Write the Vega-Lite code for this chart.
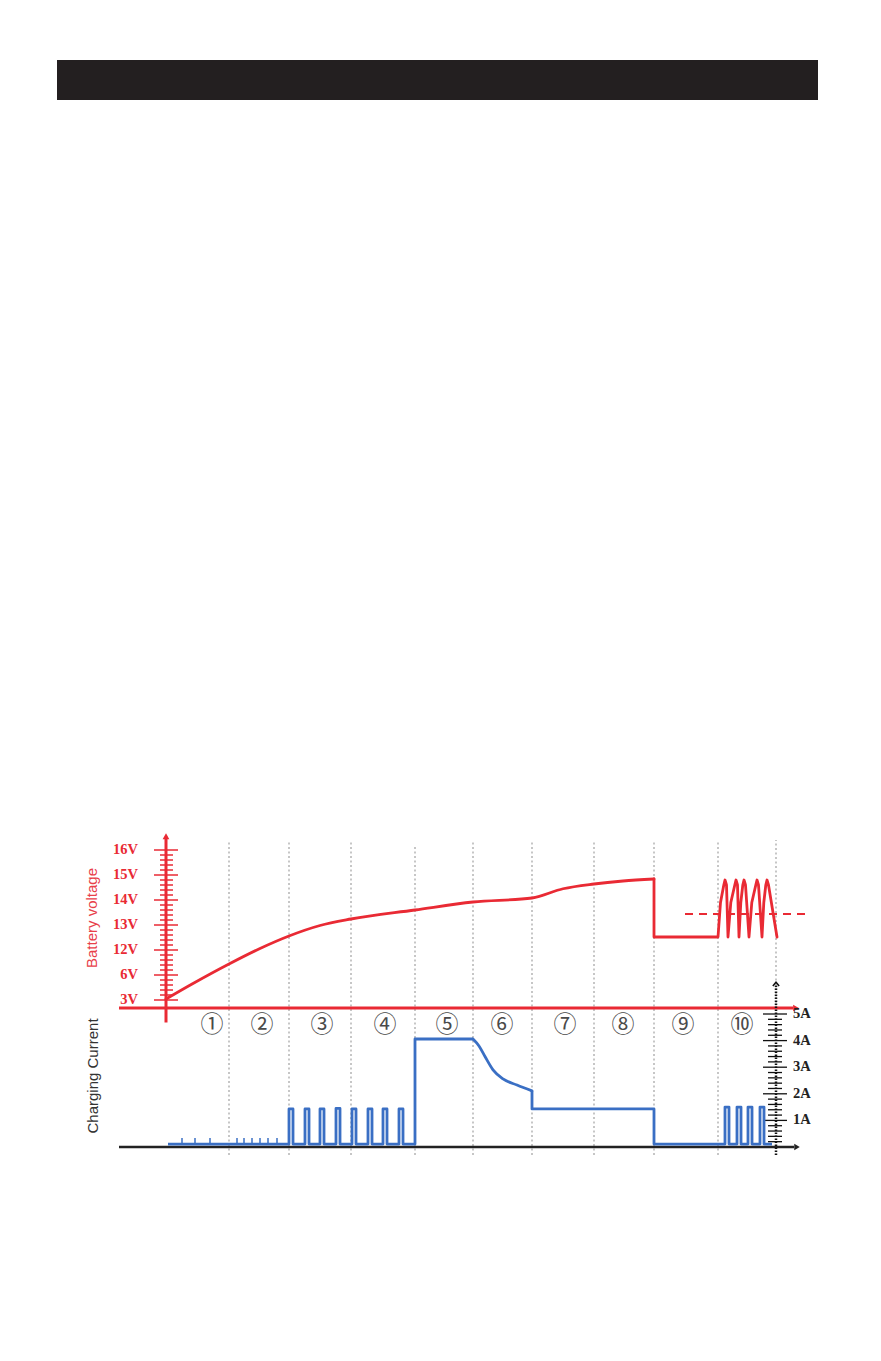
{
  "$schema": "https://vega.github.io/schema/vega-lite/v6.json",
  "width": 881,
  "height": 1361,
  "autosize": {"type": "fit", "contains": "padding"},
  "padding": 0,
  "background": "white",
  "config": {"view": {"stroke": null}},
  "datasets": {
    "header": [{"t": -109, "t2": 652, "v": 36.0, "v2": 37.6}],
    "grid": [
      {"t": 63, "v": -6.2, "v2": 6.4}, {"t": 123, "v": -6.2, "v2": 6.4}, {"t": 185, "v": -6.2, "v2": 6.4},
      {"t": 249, "v": -6.2, "v2": 6.2}, {"t": 307, "v": -6.2, "v2": 6.4}, {"t": 366, "v": -6.2, "v2": 6.4},
      {"t": 428, "v": -6.2, "v2": 6.3}, {"t": 488, "v": -6.2, "v2": 6.3}, {"t": 552, "v": -6.2, "v2": 6.4},
      {"t": 610, "v": -0.3, "v2": 6.4}
    ],
    "redaxes": [
      {"t": 0, "t2": 0, "v": -0.9, "v2": 6.5},
      {"t": -47, "t2": 627, "v": -0.32, "v2": -0.32}
    ],
    "redarrows": [
      {"t": 0, "v": 6.55, "s": "up"},
      {"t": 630, "v": -0.32, "s": "right"}
    ],
    "vticks": [
      {"t": -12, "t2": 12, "v": 0}, {"t": -12, "t2": 12, "v": 1}, {"t": -12, "t2": 12, "v": 2},
      {"t": -12, "t2": 12, "v": 3}, {"t": -12, "t2": 12, "v": 4}, {"t": -12, "t2": 12, "v": 5},
      {"t": -12, "t2": 12, "v": 6},
      {"t": -6, "t2": 7, "v": 0.2}, {"t": -6, "t2": 7, "v": 0.4}, {"t": -6, "t2": 7, "v": 0.6}, {"t": -6, "t2": 7, "v": 0.8},
      {"t": -6, "t2": 7, "v": 1.2}, {"t": -6, "t2": 7, "v": 1.4}, {"t": -6, "t2": 7, "v": 1.6}, {"t": -6, "t2": 7, "v": 1.8},
      {"t": -6, "t2": 7, "v": 2.2}, {"t": -6, "t2": 7, "v": 2.4}, {"t": -6, "t2": 7, "v": 2.6}, {"t": -6, "t2": 7, "v": 2.8},
      {"t": -6, "t2": 7, "v": 3.2}, {"t": -6, "t2": 7, "v": 3.4}, {"t": -6, "t2": 7, "v": 3.6}, {"t": -6, "t2": 7, "v": 3.8},
      {"t": -6, "t2": 7, "v": 4.2}, {"t": -6, "t2": 7, "v": 4.4}, {"t": -6, "t2": 7, "v": 4.6}, {"t": -6, "t2": 7, "v": 4.8},
      {"t": -6, "t2": 7, "v": 5.2}, {"t": -6, "t2": 7, "v": 5.4}, {"t": -6, "t2": 7, "v": 5.6}, {"t": -6, "t2": 7, "v": 5.8}
    ],
    "vlabels": [
      {"t": -28, "v": 0, "label": "3V"}, {"t": -28, "v": 1, "label": "6V"}, {"t": -28, "v": 2, "label": "12V"},
      {"t": -28, "v": 3, "label": "13V"}, {"t": -28, "v": 4, "label": "14V"}, {"t": -28, "v": 5, "label": "15V"},
      {"t": -28, "v": 6, "label": "16V"}
    ],
    "voltagesmooth": [
      {"t": 0, "v": 0.04}, {"t": 27, "v": 0.66}, {"t": 63, "v": 1.44}, {"t": 94, "v": 2.06},
      {"t": 123, "v": 2.56}, {"t": 154, "v": 2.98}, {"t": 185, "v": 3.24}, {"t": 249, "v": 3.6},
      {"t": 307, "v": 3.92}, {"t": 366, "v": 4.08}, {"t": 397, "v": 4.45}, {"t": 428, "v": 4.64},
      {"t": 457, "v": 4.76}, {"t": 488, "v": 4.84}
    ],
    "voltage": [
      {"i": 13, "t": 488, "v": 4.84}, {"i": 14, "t": 488, "v": 2.52}, {"i": 15, "t": 552, "v": 2.52},
      {"i": 16, "t": 554.5, "v": 3.9}, {"i": 17, "t": 557.8, "v": 4.6}, {"i": 18, "t": 559, "v": 4.8}, {"i": 19, "t": 560.5, "v": 4.6}, {"i": 20, "t": 562, "v": 2.52},
      {"i": 21, "t": 564.8, "v": 3.9}, {"i": 22, "t": 568.8, "v": 4.6}, {"i": 23, "t": 570, "v": 4.8}, {"i": 24, "t": 571.5, "v": 4.6}, {"i": 25, "t": 573, "v": 2.52},
      {"i": 26, "t": 574.8, "v": 3.9}, {"i": 27, "t": 576.8, "v": 4.6}, {"i": 28, "t": 578, "v": 4.8}, {"i": 29, "t": 579.5, "v": 4.6}, {"i": 30, "t": 583, "v": 2.52},
      {"i": 31, "t": 585.8, "v": 3.9}, {"i": 32, "t": 589.8, "v": 4.6}, {"i": 33, "t": 591, "v": 4.8}, {"i": 34, "t": 592.5, "v": 4.6}, {"i": 35, "t": 596, "v": 2.52},
      {"i": 36, "t": 597.8, "v": 3.9}, {"i": 37, "t": 599.8, "v": 4.6}, {"i": 38, "t": 601, "v": 4.8}, {"i": 39, "t": 602.5, "v": 4.6}, {"i": 40, "t": 611, "v": 2.52}
    ],
    "dashed": [{"t": 519, "v": 3.44}, {"t": 644, "v": 3.44}],
    "vtitle": [{"t": -74, "v": 3.28, "label": "Battery voltage"}],
    "phases": [
      {"t": 46, "v": -1.0, "label": "①"}, {"t": 96, "v": -1.0, "label": "②"}, {"t": 156, "v": -1.0, "label": "③"},
      {"t": 219, "v": -1.0, "label": "④"}, {"t": 281, "v": -1.0, "label": "⑤"}, {"t": 336, "v": -1.0, "label": "⑥"},
      {"t": 399, "v": -1.0, "label": "⑦"}, {"t": 457, "v": -1.0, "label": "⑧"}, {"t": 517, "v": -1.0, "label": "⑨"},
      {"t": 576, "v": -1.0, "label": "⑩"}
    ],
    "blackaxis": [{"t": -47, "t2": 628, "a": 0, "a2": 0}],
    "blackarrow": [{"t": 631, "a": 0}],
    "caxis": [{"t": 610, "t2": 610, "a": -0.3, "a2": 6.1}],
    "caxisarrow": [{"t": 610, "a": 6.15}],
    "cticks": [
      {"t": 597, "t2": 621, "a": 1}, {"t": 597, "t2": 621, "a": 2}, {"t": 597, "t2": 621, "a": 3},
      {"t": 597, "t2": 621, "a": 4}, {"t": 597, "t2": 621, "a": 5},
      {"t": 602, "t2": 616, "a": 0.2}, {"t": 602, "t2": 616, "a": 0.4}, {"t": 602, "t2": 616, "a": 0.6}, {"t": 602, "t2": 616, "a": 0.8},
      {"t": 602, "t2": 616, "a": 1.2}, {"t": 602, "t2": 616, "a": 1.4}, {"t": 602, "t2": 616, "a": 1.6}, {"t": 602, "t2": 616, "a": 1.8},
      {"t": 602, "t2": 616, "a": 2.2}, {"t": 602, "t2": 616, "a": 2.4}, {"t": 602, "t2": 616, "a": 2.6}, {"t": 602, "t2": 616, "a": 2.8},
      {"t": 602, "t2": 616, "a": 3.2}, {"t": 602, "t2": 616, "a": 3.4}, {"t": 602, "t2": 616, "a": 3.6}, {"t": 602, "t2": 616, "a": 3.8},
      {"t": 602, "t2": 616, "a": 4.2}, {"t": 602, "t2": 616, "a": 4.4}, {"t": 602, "t2": 616, "a": 4.6}, {"t": 602, "t2": 616, "a": 4.8}
    ],
    "clabels": [
      {"t": 627, "a": 1, "label": "1A"}, {"t": 627, "a": 2, "label": "2A"}, {"t": 627, "a": 3, "label": "3A"},
      {"t": 627, "a": 4, "label": "4A"}, {"t": 627, "a": 5, "label": "5A"}
    ],
    "current": [
      {"seg": "a", "i": 0, "t": 2, "a": 0.11},
      {"seg": "a", "i": 1, "t": 123, "a": 0.11}, {"seg": "a", "i": 2, "t": 123, "a": 1.43}, {"seg": "a", "i": 3, "t": 127, "a": 1.43}, {"seg": "a", "i": 4, "t": 127, "a": 0.11},
      {"seg": "a", "i": 5, "t": 139, "a": 0.11}, {"seg": "a", "i": 6, "t": 139, "a": 1.43}, {"seg": "a", "i": 7, "t": 143, "a": 1.43}, {"seg": "a", "i": 8, "t": 143, "a": 0.11},
      {"seg": "a", "i": 9, "t": 154, "a": 0.11}, {"seg": "a", "i": 10, "t": 154, "a": 1.43}, {"seg": "a", "i": 11, "t": 158, "a": 1.43}, {"seg": "a", "i": 12, "t": 158, "a": 0.11},
      {"seg": "a", "i": 13, "t": 170, "a": 0.11}, {"seg": "a", "i": 14, "t": 170, "a": 1.45}, {"seg": "a", "i": 15, "t": 174, "a": 1.45}, {"seg": "a", "i": 16, "t": 174, "a": 0.11},
      {"seg": "a", "i": 17, "t": 186, "a": 0.11}, {"seg": "a", "i": 18, "t": 186, "a": 1.43}, {"seg": "a", "i": 19, "t": 190, "a": 1.43}, {"seg": "a", "i": 20, "t": 190, "a": 0.11},
      {"seg": "a", "i": 21, "t": 202, "a": 0.11}, {"seg": "a", "i": 22, "t": 202, "a": 1.43}, {"seg": "a", "i": 23, "t": 206, "a": 1.43}, {"seg": "a", "i": 24, "t": 206, "a": 0.11},
      {"seg": "a", "i": 25, "t": 217, "a": 0.11}, {"seg": "a", "i": 26, "t": 217, "a": 1.43}, {"seg": "a", "i": 27, "t": 221, "a": 1.43}, {"seg": "a", "i": 28, "t": 221, "a": 0.11},
      {"seg": "a", "i": 29, "t": 233, "a": 0.11}, {"seg": "a", "i": 30, "t": 233, "a": 1.43}, {"seg": "a", "i": 31, "t": 237, "a": 1.43}, {"seg": "a", "i": 32, "t": 237, "a": 0.11},
      {"seg": "a", "i": 33, "t": 249, "a": 0.11}, {"seg": "a", "i": 34, "t": 249, "a": 4.06}, {"seg": "a", "i": 35, "t": 307, "a": 4.06},
      {"seg": "b", "i": 41, "t": 366, "a": 2.11}, {"seg": "b", "i": 42, "t": 366, "a": 1.43},
      {"seg": "b", "i": 43, "t": 488, "a": 1.43}, {"seg": "b", "i": 44, "t": 488, "a": 0.11}, {"seg": "b", "i": 45, "t": 559, "a": 0.11},
      {"seg": "b", "i": 46, "t": 559, "a": 1.5}, {"seg": "b", "i": 47, "t": 563, "a": 1.5}, {"seg": "b", "i": 48, "t": 563, "a": 0.11}, {"seg": "b", "i": 49, "t": 571, "a": 0.11},
      {"seg": "b", "i": 50, "t": 571, "a": 1.5}, {"seg": "b", "i": 51, "t": 575, "a": 1.5}, {"seg": "b", "i": 52, "t": 575, "a": 0.11}, {"seg": "b", "i": 53, "t": 582, "a": 0.11},
      {"seg": "b", "i": 54, "t": 582, "a": 1.5}, {"seg": "b", "i": 55, "t": 586, "a": 1.5}, {"seg": "b", "i": 56, "t": 586, "a": 0.11}, {"seg": "b", "i": 57, "t": 594, "a": 0.11},
      {"seg": "b", "i": 58, "t": 594, "a": 1.5}, {"seg": "b", "i": 59, "t": 598, "a": 1.5}, {"seg": "b", "i": 60, "t": 598, "a": 0.11}, {"seg": "b", "i": 61, "t": 606, "a": 0.11}
    ],
    "decay": [
      {"t": 307, "a": 4.06}, {"t": 313, "a": 3.8}, {"t": 319, "a": 3.4}, {"t": 327, "a": 2.9},
      {"t": 337, "a": 2.56}, {"t": 351, "a": 2.33}, {"t": 366, "a": 2.11}
    ],
    "smallticks": [
      {"t": 16, "a": 0.11, "a2": 0.34}, {"t": 29, "a": 0.11, "a2": 0.34}, {"t": 44, "a": 0.11, "a2": 0.34},
      {"t": 71, "a": 0.11, "a2": 0.34}, {"t": 78, "a": 0.11, "a2": 0.34}, {"t": 86, "a": 0.11, "a2": 0.34},
      {"t": 94, "a": 0.11, "a2": 0.34}, {"t": 102, "a": 0.11, "a2": 0.34}, {"t": 111, "a": 0.11, "a2": 0.34}
    ],
    "ctitle": [{"t": -73, "a": 2.67, "label": "Charging Current"}]
  },
  "encoding": {
    "x": {"field": "t", "type": "quantitative", "scale": {"domain": [-166, 715], "nice": false, "zero": false}, "axis": null}
  },
  "layer": [
    {
      "encoding": {
        "y": {"field": "v", "type": "quantitative", "scale": {"domain": [-14.44, 40], "nice": false, "zero": false}, "axis": null}
      },
      "layer": [
        {"data": {"name": "header"}, "mark": {"type": "rect", "color": "#231f20"},
         "encoding": {"x2": {"field": "t2"}, "y2": {"field": "v2"}}},
        {"data": {"name": "grid"}, "mark": {"type": "rule", "color": "#b4b4b4", "strokeWidth": 1.5, "strokeDash": [2, 2.5]},
         "encoding": {"y2": {"field": "v2"}}},
        {"data": {"name": "vticks"}, "mark": {"type": "rule", "color": "#e92a34", "strokeWidth": 1.5},
         "encoding": {"x2": {"field": "t2"}}},
        {"data": {"name": "redaxes"}, "mark": {"type": "rule", "color": "#e92a34", "strokeWidth": 3},
         "encoding": {"x2": {"field": "t2"}, "y2": {"field": "v2"}}},
        {"data": {"name": "redarrows"}, "mark": {"type": "point", "filled": true, "color": "#e92a34", "size": 45, "opacity": 1},
         "encoding": {"shape": {"field": "s", "type": "nominal", "scale": {"domain": ["up", "right"], "range": ["triangle-up", "triangle-right"]}, "legend": null}}},
        {"data": {"name": "vlabels"}, "mark": {"type": "text", "align": "right", "baseline": "middle", "font": "Liberation Serif", "fontWeight": "bold", "fontSize": 14.5, "color": "#e92a34"},
         "encoding": {"text": {"field": "label"}}},
        {"data": {"name": "dashed"}, "mark": {"type": "line", "color": "#e92a34", "strokeWidth": 2, "strokeDash": [8, 6]},
         "encoding": {}},
        {"data": {"name": "voltagesmooth"}, "mark": {"type": "line", "color": "#e92a34", "strokeWidth": 2.8, "interpolate": "monotone", "strokeCap": "round"},
         "encoding": {}},
        {"data": {"name": "voltage"}, "mark": {"type": "line", "color": "#e92a34", "strokeWidth": 2.8, "strokeJoin": "round", "strokeCap": "round"},
         "encoding": {"order": {"field": "i"}}},
        {"data": {"name": "vtitle"}, "mark": {"type": "text", "angle": 270, "align": "center", "baseline": "middle", "font": "Liberation Sans", "fontSize": 15, "color": "#e8404a"},
         "encoding": {"text": {"field": "label"}}},
        {"data": {"name": "phases"}, "mark": {"type": "text", "align": "center", "baseline": "middle", "font": "Noto Sans CJK JP", "fontSize": 23, "color": "#4a4a4a"},
         "encoding": {"text": {"field": "label"}}}
      ]
    },
    {
      "encoding": {
        "y": {"field": "a", "type": "quantitative", "scale": {"domain": [-8.045, 43.12], "nice": false, "zero": false}, "axis": null}
      },
      "layer": [
        {"data": {"name": "blackaxis"}, "mark": {"type": "rule", "color": "#222222", "strokeWidth": 2.5},
         "encoding": {"x2": {"field": "t2"}}},
        {"data": {"name": "blackarrow"}, "mark": {"type": "point", "shape": "triangle-right", "filled": true, "color": "#222222", "size": 40, "opacity": 1},
         "encoding": {}},
        {"data": {"name": "caxis"}, "mark": {"type": "rule", "color": "#111111", "strokeWidth": 2.5, "strokeDash": [1.5, 1.5]},
         "encoding": {"y2": {"field": "a2"}}},
        {"data": {"name": "caxisarrow"}, "mark": {"type": "point", "shape": "M-1,0.8L0,-0.4L1,0.8", "filled": false, "color": "#111111", "strokeWidth": 1.5, "size": 40, "opacity": 1},
         "encoding": {}},
        {"data": {"name": "cticks"}, "mark": {"type": "rule", "color": "#111111", "strokeWidth": 1.3},
         "encoding": {"x2": {"field": "t2"}}},
        {"data": {"name": "clabels"}, "mark": {"type": "text", "align": "left", "baseline": "middle", "font": "Liberation Serif", "fontWeight": "bold", "fontSize": 14.5, "color": "#222222"},
         "encoding": {"text": {"field": "label"}}},
        {"data": {"name": "smallticks"}, "mark": {"type": "rule", "color": "#3a6fc4", "strokeWidth": 1.5},
         "encoding": {"y2": {"field": "a2"}}},
        {"data": {"name": "current"}, "mark": {"type": "line", "color": "#3a6fc4", "strokeWidth": 2.8, "strokeJoin": "round"},
         "encoding": {"order": {"field": "i"}, "detail": {"field": "seg"}}},
        {"data": {"name": "decay"}, "mark": {"type": "line", "color": "#3a6fc4", "strokeWidth": 2.8, "interpolate": "monotone", "strokeCap": "round"},
         "encoding": {}},
        {"data": {"name": "ctitle"}, "mark": {"type": "text", "angle": 270, "align": "center", "baseline": "middle", "font": "Liberation Sans", "fontSize": 15, "color": "#333333"},
         "encoding": {"text": {"field": "label"}}}
      ]
    }
  ],
  "resolve": {"scale": {"y": "independent"}}
}
